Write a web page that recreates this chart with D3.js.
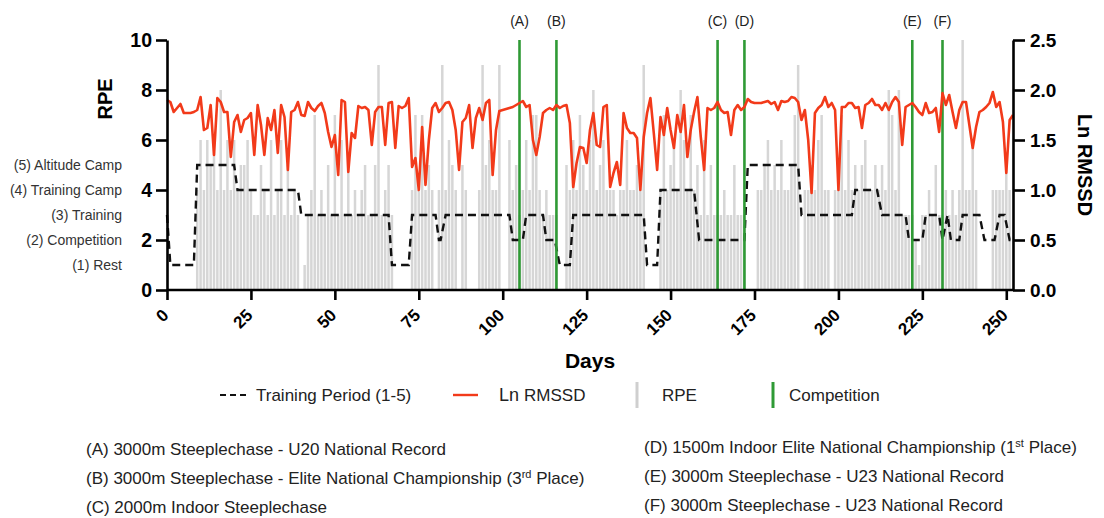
<!DOCTYPE html>
<html><head><meta charset="utf-8">
<script src="https://cdn.jsdelivr.net/npm/d3@7"></script>
<style>
body{margin:0;background:#fff;}
svg{display:block;font-family:"Liberation Sans",Arial,sans-serif;}
</style></head><body>
<svg id="chart" width="1104" height="518"></svg>
<script>
// ---------------- DATA ----------------
// Daily RPE (day 0 .. 252)
const rpe = [
 0,0,0,0,0,0,0,0,0,4,
 6,4,6,5,6,4,8,4,6,4,
 6,4,5,5,6,4,3,3,5,4,
 3,6,3,4,6,3,5,3,4,3,
 0,1,3,4,7,3,4,3,5,3,
 7,3,6,3,5,3,4,3,4,5,
 3,3,5,9,3,4,5,3,0,0,
 0,0,0,4,7,4,7,4,5,4,
 0,4,9,4,6,5,4,0,5,4,
 0,0,0,4,9,5,6,4,4,9,
 0,0,6,4,5,3,4,6,4,7,
 7,4,3,4,3,3,3,0,0,5,
 4,6,4,7,5,4,6,8,4,5,
 6,4,4,4,3,4,4,6,4,4,
 5,4,9,0,0,0,0,4,7,4,
 5,6,4,8,6,4,7,4,5,3,
 6,3,5,3,3,3,4,3,3,5,
 3,3,3,0,0,0,4,4,5,6,
 4,5,4,6,4,4,5,7,9,0,
 4,4,5,4,6,7,4,4,0,4,
 5,7,4,6,4,5,4,5,6,4,
 4,5,4,5,4,8,7,4,8,3,
 3,3,3,2,1,3,3,4,3,5,
 3,3,4,3,4,3,4,10,4,4,
 6,4,0,0,0,0,4,4,4,4,
 5,4,0
];
// Daily Ln RMSSD (day 0 .. 252)
const lnRmssd = [
 1.90,1.88,1.78,1.82,1.86,1.77,1.77,1.77,1.78,1.80,
 1.93,1.60,1.62,1.85,1.35,1.92,1.88,1.78,1.78,1.33,
 1.68,1.75,1.58,1.70,1.72,1.77,1.35,1.85,1.65,1.35,
 1.72,1.60,1.80,1.37,1.85,1.73,1.20,1.78,1.80,1.88,
 1.75,1.74,1.88,1.82,1.79,1.84,1.87,1.77,1.58,1.43,
 1.55,1.15,1.90,1.88,1.18,1.57,1.52,1.84,1.82,1.83,
 1.80,1.45,1.78,1.83,1.83,1.45,1.87,1.88,1.42,1.84,
 1.82,1.84,1.92,1.23,1.32,1.00,1.63,1.05,1.50,1.82,
 1.87,1.78,1.82,1.87,1.88,1.80,1.60,1.20,1.68,1.72,
 1.85,1.42,1.72,1.82,1.70,1.87,1.90,1.15,1.60,1.79,
 1.80,1.81,1.82,1.83,1.85,1.87,1.89,1.83,1.85,1.50,
 1.35,1.53,1.77,1.80,1.82,1.80,1.85,1.82,1.84,1.85,
 1.67,1.03,1.27,1.43,1.42,1.27,1.60,1.77,1.45,1.43,
 1.83,1.85,1.03,1.17,1.28,1.05,1.77,1.62,1.57,1.57,
 1.52,1.00,1.53,1.77,1.92,1.57,1.20,1.73,1.55,1.82,
 1.60,1.42,1.75,1.58,1.85,1.33,1.60,1.78,1.93,1.53,
 1.20,1.82,1.80,1.82,1.88,1.80,1.77,1.78,1.55,1.80,
 1.85,1.80,1.83,1.91,1.88,1.87,1.87,1.87,1.88,1.89,
 1.86,1.88,1.80,1.89,1.88,1.89,1.93,1.92,1.88,1.70,
 1.80,1.50,0.97,1.77,1.82,1.85,1.93,1.83,1.87,1.80,
 1.00,1.83,1.83,1.87,1.87,1.82,1.83,1.62,1.85,1.87,
 1.91,1.85,1.85,1.80,1.87,1.80,1.88,1.93,1.88,1.45,
 1.83,1.85,1.87,1.83,1.78,1.75,1.87,1.77,1.78,1.82,
 1.58,1.97,1.85,1.95,1.78,1.62,1.80,1.88,1.88,1.65,
 1.42,1.63,1.78,1.80,1.83,1.87,1.98,1.83,1.88,1.68,
 1.17,1.70,1.75
];
// Training period (1-5): breakpoints (day, level)
const periodDays   = [0,1,8,9,20,21,39,40,66,67,72,73,80,81,81.5,83,102,103,106,107,112,113,115.5,117,120,121,142,143,146,147,157,158.5,172,173,188,189,204,205,211.5,213,220,221,225,226,230,231,232.5,233.5,236,237,242,243.5,246.5,248,249.5,251,252];
const periodLevels = [3,1,1,5,5,4,4,3,3,1,1,3,3,2,2,3,3,2,2,3,3,2,2,1,1,3,3,1,1,4,4,2,2,5,5,3,3,4,4,3,3,2,2,3,3,2,3,2,2,3,3,2,2,3,3,2,2];
const periodLabels = ["(1) Rest","(2) Competition","(3) Training","(4) Training Camp","(5) Altitude Camp"];
const periodLabelLevels = [1,2,3,4,5];
// Competitions
const competitionDays  = [105,116,164,172,222,231];
const competitionCodes = ["(A)","(B)","(C)","(D)","(E)","(F)"];
const competitionNotes = [
 ["(A) 3000m Steeplechase - U20 National Record", ""],
 ["(B) 3000m Steeplechase - Elite National Championship (3", "rd", " Place)"],
 ["(C) 2000m Indoor Steeplechase", ""],
 ["(D) 1500m Indoor Elite National Championship (1", "st", " Place)"],
 ["(E) 3000m Steeplechase - U23 National Record", ""],
 ["(F) 3000m Steeplechase - U23 National Record", ""]
];
// Ticks
const dayTicks   = [0,25,50,75,100,125,150,175,200,225,250];
const rpeTicks   = [0,2,4,6,8,10];
const rmssdTicks = [0,0.5,1.0,1.5,2.0,2.5];

// ---------------- CHART ----------------
const svg = d3.select("#chart");
const L = 167, R = 1013, T = 40, B = 290;
const x  = d3.scaleLinear().domain([0,252]).range([L,R]);
const yL = d3.scaleLinear().domain([0,10]).range([B,T]);
const yR = d3.scaleLinear().domain([0,2.5]).range([B,T]);
const bw = (x(1)-x(0))*0.74;

// RPE bars
svg.append("g").selectAll("rect").data(rpe).join("rect")
  .attr("x",(d,i)=>x(i)-bw/2).attr("y",d=>yL(d))
  .attr("width",bw).attr("height",d=>B-yL(d))
  .attr("fill","#d6d6d6");

// Training period dashed line
const periodPts = periodDays.map((d,i)=>[d,periodLevels[i]]);
svg.append("path").datum(periodPts)
  .attr("d",d3.line().x(d=>x(d[0])).y(d=>yL(d[1])))
  .attr("fill","none").attr("stroke","#111").attr("stroke-width",2.4)
  .attr("stroke-dasharray","8,5");

// Competition lines
svg.append("g").selectAll("line").data(competitionDays).join("line")
  .attr("x1",d=>x(d)).attr("x2",d=>x(d)).attr("y1",T).attr("y2",B)
  .attr("stroke","#2f9a35").attr("stroke-width",2.6);
svg.append("g").selectAll("text").data(competitionDays).join("text")
  .attr("x",d=>x(d)).attr("y",26).attr("text-anchor","middle")
  .attr("font-size",14).attr("fill","#222")
  .text((d,i)=>competitionCodes[i]);

// Ln RMSSD line
svg.append("path").datum(lnRmssd)
  .attr("d",d3.line().x((d,i)=>x(i)).y(d=>yR(d)))
  .attr("fill","none").attr("stroke","#f23a1a").attr("stroke-width",2.6)
  .attr("stroke-linejoin","round");

// Axes
function styleAxis(g){
  g.select(".domain").attr("stroke","#000").attr("stroke-width",2.6);
  g.selectAll(".tick line").attr("stroke","#000").attr("stroke-width",2.6);
  g.selectAll(".tick text").attr("fill","#000").attr("font-weight","bold")
    .attr("font-family","'Liberation Sans',Arial,sans-serif");
}
const gx = svg.append("g").attr("transform",`translate(0,${B})`)
  .call(d3.axisBottom(x).tickValues(dayTicks).tickSize(10).tickSizeOuter(0).tickFormat(d3.format("d")));
styleAxis(gx);
gx.select(".domain").attr("d",`M${L},0H${R}`);
gx.selectAll(".tick text").attr("font-size",17).attr("y",0).attr("dy","0.35em")
  .attr("text-anchor","end").attr("transform","translate(-2,22) rotate(-45)");

const gl = svg.append("g").attr("transform",`translate(${L},0)`)
  .call(d3.axisLeft(yL).tickValues(rpeTicks).tickSize(11).tickPadding(4).tickSizeOuter(0));
styleAxis(gl);
gl.selectAll(".tick text").attr("font-size",19.5);

const gr = svg.append("g").attr("transform",`translate(${R},0)`)
  .call(d3.axisRight(yR).tickValues(rmssdTicks).tickSize(12).tickPadding(5).tickSizeOuter(0).tickFormat(d3.format(".1f")));
styleAxis(gr);
gr.selectAll(".tick text").attr("font-size",19);

// Axis titles
svg.append("text").attr("transform","translate(112,99) rotate(-90)")
  .attr("text-anchor","middle").attr("font-size",20).attr("font-weight","bold").text("RPE");
svg.append("text").attr("transform","translate(1078,165) rotate(90)")
  .attr("text-anchor","middle").attr("font-size",20).attr("font-weight","bold").text("Ln RMSSD");
svg.append("text").attr("x",(L+R)/2).attr("y",368)
  .attr("text-anchor","middle").attr("font-size",21).attr("font-weight","bold").text("Days");

// Period labels on the left
svg.append("g").selectAll("text").data(periodLabels).join("text")
  .attr("x",122).attr("y",(d,i)=>yL(periodLabelLevels[i])).attr("dy","0.35em")
  .attr("text-anchor","end").attr("font-size",14).attr("fill","#333").text(d=>d);

// Legend
const lg = svg.append("g");
const ly = 395;
lg.append("line").attr("x1",220).attr("x2",249).attr("y1",ly).attr("y2",ly)
  .attr("stroke","#111").attr("stroke-width",2.2).attr("stroke-dasharray","6,4");
lg.append("text").attr("x",256).attr("y",ly).attr("dy","0.35em").attr("font-size",17).attr("fill","#222").text("Training Period (1-5)");
lg.append("line").attr("x1",453).attr("x2",478).attr("y1",ly).attr("y2",ly)
  .attr("stroke","#f23a1a").attr("stroke-width",2.4);
const lt = lg.append("text").attr("x",499).attr("y",ly).attr("dy","0.35em").attr("font-size",17).attr("fill","#222");
lt.append("tspan").attr("font-size",18).text("Ln ");
lt.append("tspan").text("RMSSD");
lg.append("line").attr("x1",637).attr("x2",637).attr("y1",382).attr("y2",408)
  .attr("stroke","#cfcfcf").attr("stroke-width",3);
lg.append("text").attr("x",662).attr("y",ly).attr("dy","0.35em").attr("font-size",17).attr("fill","#222").text("RPE");
lg.append("line").attr("x1",773).attr("x2",773).attr("y1",382).attr("y2",408)
  .attr("stroke","#2f9a35").attr("stroke-width",3);
lg.append("text").attr("x",789).attr("y",ly).attr("dy","0.35em").attr("font-size",17).attr("fill","#222").text("Competition");

// Competition notes
const noteX = [86,86,86,644,644,644];
const noteY = [449,478,507,447,476,505];
competitionNotes.forEach((n,i)=>{
  const t = svg.append("text").attr("x",noteX[i]).attr("y",noteY[i]+6)
    .attr("font-size",17).attr("fill","#222");
  t.append("tspan").text(n[0]);
  if(n[1]){
    t.append("tspan").attr("font-size",11).attr("dy",-6).text(n[1]);
    t.append("tspan").attr("font-size",17).attr("dy",6).text(n[2]);
  }
});
</script>
</body></html>
